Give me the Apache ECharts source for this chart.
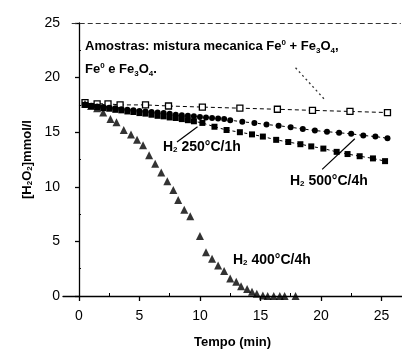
<!DOCTYPE html>
<html>
<head>
<meta charset="utf-8">
<script src="https://cdn.jsdelivr.net/npm/echarts@6/dist/echarts.min.js"></script>
<style>
html,body{margin:0;padding:0;background:#fff;}
#chart{width:402px;height:354px;}
</style>
</head>
<body>
<div id="chart"></div>
<script>
// Mechanical mixture Fe0 + Fe3O4 (open squares)
const tMech = [0.5, 1.5, 2.4, 3.4, 5.5, 7.4, 10.2, 13.3, 16.4, 19.3, 22.4, 25.5];
const vMech = [17.7, 17.6, 17.6, 17.5, 17.5, 17.4, 17.3, 17.2, 17.1, 17.0, 16.9, 16.8];

// Upper filled circles
const tCirc = [0.5, 1.0, 1.5, 2.0, 2.5, 3.0, 3.5, 4.0, 4.5, 5.0, 5.5, 6.0, 6.5, 7.0, 7.5, 8.0, 8.5, 9.0, 9.5, 10.0, 10.5, 11.0, 11.5, 12.0, 12.5, 13.5, 14.5, 15.5, 16.5, 17.5, 18.5, 19.5, 20.5, 21.5, 22.5, 23.5, 24.5, 25.5];
const vCirc = [17.5, 17.4, 17.35, 17.3, 17.25, 17.2, 17.1, 17.05, 17.0, 16.95, 16.9, 16.85, 16.8, 16.75, 16.7, 16.6, 16.55, 16.5, 16.45, 16.4, 16.35, 16.3, 16.25, 16.2, 16.1, 15.95, 15.85, 15.7, 15.6, 15.45, 15.3, 15.15, 15.05, 14.95, 14.85, 14.7, 14.6, 14.45];

// Lower filled squares
const tSq = [0.5, 1.0, 1.5, 2.0, 2.5, 3.0, 3.5, 4.0, 4.5, 5.0, 5.5, 6.0, 6.5, 7.0, 7.5, 8.0, 8.5, 9.0, 9.5, 10.2, 11.2, 12.2, 13.3, 14.3, 15.2, 16.3, 17.3, 18.3, 19.2, 20.2, 21.3, 22.2, 23.2, 24.3, 25.3];
const vSq = [17.5, 17.4, 17.3, 17.2, 17.15, 17.05, 17.0, 16.9, 16.85, 16.75, 16.7, 16.6, 16.5, 16.45, 16.35, 16.3, 16.2, 16.1, 16.0, 15.85, 15.5, 15.2, 15.0, 14.8, 14.6, 14.3, 14.1, 13.9, 13.7, 13.5, 13.2, 13.0, 12.8, 12.6, 12.35];

// H2 400°C/4h (filled triangles)
const tTri = [0.5, 1.0, 1.5, 2.0, 2.6, 3.1, 3.7, 4.3, 4.8, 5.3, 5.8, 6.3, 6.8, 7.3, 7.8, 8.2, 8.7, 9.2, 10.0, 10.5, 11.0, 11.5, 12.0, 12.5, 13.0, 13.4, 13.9, 14.3, 14.7, 15.2, 15.6, 16.1, 16.6, 17.0, 17.9];
const vTri = [17.6, 17.4, 17.2, 16.8, 16.2, 15.9, 15.2, 14.8, 14.3, 13.8, 12.9, 12.1, 11.3, 10.5, 9.7, 8.8, 7.9, 7.3, 5.5, 4.0, 3.4, 2.8, 2.3, 1.6, 1.3, 0.9, 0.65, 0.4, 0.2, 0.05, 0, 0, 0, 0, 0];

const xTicks = [0, 5, 10, 15, 20, 25];
const xMinor = [2.5, 7.5, 12.5, 17.5, 22.5];
const yMinor = [2.5, 7.5, 12.5, 17.5, 22.5];

const zip = (a, b) => a.map((x, i) => [x, b[i]]);
const FONT = '"Liberation Sans", Arial, sans-serif';
const INK = '#000';

const chart = echarts.init(document.getElementById('chart'), null, {renderer: 'canvas'});

const commonX = {type: 'value', min: -1.32, max: 26.7, splitLine: {show: false}};
const commonY = {type: 'value', min: 0, max: 25, splitLine: {show: false}};

const labelRich = {
  n: {fontFamily: FONT, fontWeight: 'bold', fontSize: 14, fill: INK, lineHeight: 16, verticalAlign: 'bottom'},
  s: {fontFamily: FONT, fontWeight: 'bold', fontSize: 8, fill: INK, lineHeight: 8, verticalAlign: 'bottom'}
};

chart.setOption({
  animation: false,
  backgroundColor: '#fff',
  grid: {left: 63, right: 0, top: 23, bottom: 57, containLabel: false},
  xAxis: [
    Object.assign({}, commonX, {
      name: 'Tempo (min)', nameLocation: 'middle', nameGap: 40,
      nameTextStyle: {fontFamily: FONT, fontWeight: 'bold', fontSize: 13, color: INK},
      axisLine: {show: true, lineStyle: {color: INK, width: 1.3}},
      axisTick: {show: true, inside: false, length: 5, customValues: xTicks, lineStyle: {color: INK, width: 1.3}},
      axisLabel: {show: true, customValues: xTicks, margin: 13, fontFamily: FONT, fontSize: 14, color: INK}
    }),
    Object.assign({}, commonX, {
      axisLine: {show: false},
      axisTick: {show: true, inside: false, length: 3, customValues: xMinor, lineStyle: {color: INK, width: 1}},
      axisLabel: {show: false}
    })
  ],
  yAxis: [
    Object.assign({}, commonY, {
      offset: -7,
      name: '{n|[H}{s|2}{n|O}{s|2}{n|]mmol/l}', nameLocation: 'middle', nameGap: 31,
      nameTextStyle: {
        fontFamily: FONT, fontWeight: 'bold', fontSize: 13, color: INK,
        rich: {
          n: {fontFamily: FONT, fontWeight: 'bold', fontSize: 13, color: INK, lineHeight: 16, verticalAlign: 'bottom'},
          s: {fontFamily: FONT, fontWeight: 'bold', fontSize: 8, color: INK, lineHeight: 8, verticalAlign: 'bottom'}
        }
      },
      interval: 5,
      axisLine: {show: true, lineStyle: {color: INK, width: 1.3}},
      axisTick: {show: true, inside: false, length: 4, lineStyle: {color: INK, width: 1.3}},
      axisLabel: {show: true, margin: 10, fontFamily: FONT, fontSize: 14, color: INK}
    }),
    Object.assign({}, commonY, {
      offset: -7,
      axisLine: {show: false},
      axisTick: {show: true, inside: false, length: 2, customValues: yMinor, lineStyle: {color: INK, width: 1}},
      axisLabel: {show: false}
    })
  ],
  series: [
    {
      name: 'Mistura mecanica', type: 'line', data: zip(tMech, vMech),
      symbol: 'rect', symbolSize: 6, showSymbol: true,
      itemStyle: {color: '#fff', borderColor: INK, borderWidth: 1.3},
      lineStyle: {color: INK, width: 1, type: [4, 3]},
      z: 3,
      markLine: {
        silent: true, symbol: ['none', 'none'], animation: false,
        label: {show: false},
        lineStyle: {color: '#333', width: 1, type: [5, 3]},
        data: [
          [{coord: [-0.6, 25]}, {coord: [26.6, 25]}]
        ]
      }
    },
    {
      name: 'H2 500°C/4h', type: 'line', data: zip(tCirc, vCirc),
      symbol: 'circle', symbolSize: 6,
      itemStyle: {color: INK},
      lineStyle: {color: INK, width: 1, type: [3, 3]},
      z: 4,
      markLine: {
        silent: true, symbol: ['none', 'none'], animation: false,
        label: {show: false},
        lineStyle: {color: INK, width: 1.2, type: 'solid'},
        data: [
          [{coord: [20.1, 11.6]}, {coord: [22.8, 14.4]}],
          [{coord: [8.1, 14.1]}, {coord: [9.8, 15.5]}]
        ]
      }
    },
    {
      name: 'H2 250°C/1h', type: 'line', data: zip(tSq, vSq),
      symbol: 'rect', symbolSize: 6,
      itemStyle: {color: INK},
      lineStyle: {color: INK, width: 1, type: [3, 3]},
      z: 4,
      markLine: {
        silent: true, symbol: ['none', 'none'], animation: false,
        label: {show: false},
        lineStyle: {color: '#333', width: 1.3, type: [2, 3]},
        data: [
          [{coord: [17.9, 20.9]}, {coord: [20.3, 18.0]}]
        ]
      }
    },
    {
      name: 'H2 400°C/4h', type: 'scatter', data: zip(tTri, vTri),
      symbol: 'triangle', symbolSize: 8,
      itemStyle: {color: INK},
      z: 5
    }
  ],
  graphic: [
    {
      type: 'text', left: 85, top: 35,
      style: {
        text: '{n|Amostras: mistura mecanica Fe}{p|0}{n| + Fe}{s|3}{n|O}{s|4}{n|,}\n{n|Fe}{p|0}{n| e Fe}{s|3}{n|O}{s|4}{n|.}',
        rich: {
          n: {fontFamily: FONT, fontWeight: 'bold', fontSize: 13, fill: INK, lineHeight: 23, verticalAlign: 'middle'},
          s: {fontFamily: FONT, fontWeight: 'bold', fontSize: 8, fill: INK, lineHeight: 11, verticalAlign: 'bottom', padding: [0, 0, 3, 0]},
          p: {fontFamily: FONT, fontWeight: 'bold', fontSize: 8, fill: INK, lineHeight: 11, verticalAlign: 'top', padding: [4, 0, 0, 0]}
        }
      }
    },
    {type: 'text', left: 163, top: 140, style: {text: '{n|H}{s|2}{n| 250°C/1h}', rich: labelRich}},
    {type: 'text', left: 290, top: 174, style: {text: '{n|H}{s|2}{n| 500°C/4h}', rich: labelRich}},
    {type: 'text', left: 233, top: 253, style: {text: '{n|H}{s|2}{n| 400°C/4h}', rich: labelRich}}
  ]
});
</script>
</body>
</html>
